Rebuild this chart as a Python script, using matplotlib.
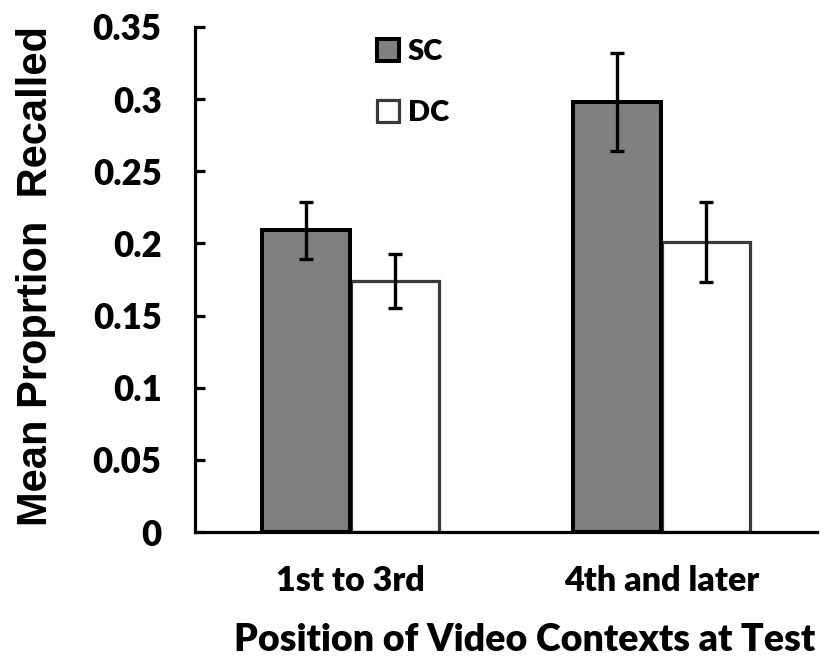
import numpy as np
import matplotlib.pyplot as plt

# Mean proportion recalled by position of the video context at test
POSITIONS = ["1st to 3rd", "4th and later"]
SC_MEAN = [0.209, 0.298]
SC_ERR = [0.020, 0.034]
DC_MEAN = [0.174, 0.201]
DC_ERR = [0.019, 0.028]
Y_TICKS = [0, 0.05, 0.1, 0.15, 0.2, 0.25, 0.3, 0.35]
Y_TICK_LABELS = ["0", "0.05", "0.1", "0.15", "0.2", "0.25", "0.3", "0.35"]

TEXT_FONT = ["Lato", "DejaVu Sans"]
LABEL_FONT = ["Liberation Sans", "DejaVu Sans"]
WEIGHT = "heavy"

fig = plt.figure(figsize=(8.24, 6.64), dpi=100)
ax = fig.add_axes([195 / 824, 1 - 532 / 664, 622 / 824, 505 / 664])

x = np.arange(len(POSITIONS))
width = 0.285
offset = 0.1426

err_kw = dict(ecolor="black", elinewidth=2.4, capsize=4.8, capthick=2.4, zorder=4)

dc = ax.bar(x + offset, DC_MEAN, width, color="white", edgecolor="#3a3a3a",
            linewidth=2.3, label="DC", zorder=2)
sc = ax.bar(x - offset, SC_MEAN, width, color="#808080", edgecolor="black",
            linewidth=2.9, label="SC", zorder=3)
ax.errorbar(x + offset, DC_MEAN, yerr=DC_ERR, fmt="none", **err_kw)
ax.errorbar(x - offset, SC_MEAN, yerr=SC_ERR, fmt="none", **err_kw)

ax.set_xlim(-0.5, 1.5)
ax.set_ylim(0, 0.35)

for side in ("top", "right"):
    ax.spines[side].set_visible(False)
for side in ("left", "bottom"):
    ax.spines[side].set_linewidth(2.3)
    ax.spines[side].set_color("black")

ax.set_yticks(Y_TICKS)
ax.set_yticklabels(Y_TICK_LABELS, fontfamily=TEXT_FONT, fontweight=WEIGHT, fontsize=25)
ax.tick_params(axis="y", direction="in", length=7, width=2.3, pad=24)
ax.set_xticks(x)
ax.set_xticklabels(POSITIONS, fontfamily=TEXT_FONT, fontweight=WEIGHT, fontsize=24.5)
ax.tick_params(axis="x", length=0, pad=24)

ax.set_ylabel("Mean Proprtion  Recalled", fontfamily=LABEL_FONT,
              fontweight="bold", fontsize=30)
ax.yaxis.set_label_coords(-0.224, 0.506)
ax.set_xlabel("Position of Video Contexts at Test", fontfamily=TEXT_FONT,
              fontweight=WEIGHT, fontsize=27)
ax.xaxis.set_label_coords(0.53, -0.18)

ax.legend(handles=[sc, dc], loc="upper left", frameon=False,
          bbox_to_anchor=(377 / 824, 1 - 39 / 664), bbox_transform=fig.transFigure,
          prop=dict(family=TEXT_FONT, weight=WEIGHT, size=21),
          handlelength=0.75, handleheight=0.75, handletextpad=0.3,
          labelspacing=1.2, borderpad=0, borderaxespad=0)

fig.savefig("out.png", dpi=100, facecolor="white")
